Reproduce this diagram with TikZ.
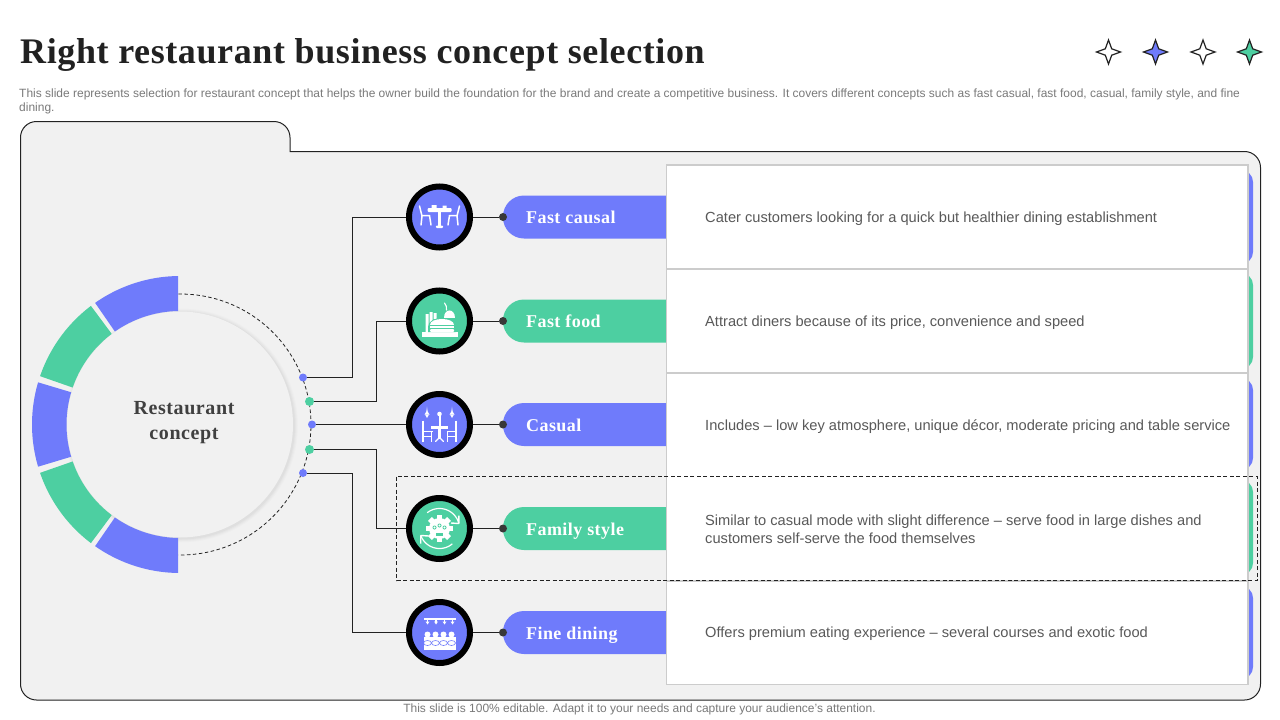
\documentclass[tikz,border=0pt]{standalone}
\usepackage{fontspec}
\setmainfont{Liberation Sans}
\newfontfamily\serifb[Scale=1]{Liberation Serif}
\definecolor{cblue}{HTML}{6F7BFB}
\definecolor{cgreen}{HTML}{4DCFA1}
\definecolor{cpanel}{HTML}{F1F1F1}
\definecolor{cline}{HTML}{222222}
\newcommand{\fs}[1]{\fontsize{#1}{#1}\selectfont}
\tikzset{
  x=1pt,y=-1pt,
  conn/.style={draw=cline,line width=0.9pt},
  pt/.style={circle,inner sep=0pt,minimum size=8pt},
  endpt/.style={circle,inner sep=0pt,minimum size=8pt,fill=cline!90!white},
  iconring/.style={circle,draw=black,line width=6pt,inner sep=0pt,minimum size=61pt},
  pilltext/.style={anchor=base west,inner sep=0pt,text=white,font=\serifb\bfseries\fs{18}\addfontfeature{LetterSpace=2.4}},
  desc/.style={anchor=base west,inner sep=0pt,text=black!65,font=\fs{14.65},align=left},
  star/.style={draw=cline,line width=1.2pt,line join=miter},
  ic/.style={draw=white,line width=1.5pt,line cap=round},
}
\newcommand{\pillrow}[4]{% y col striptop stripbot
  \fill[#2,rounded corners=12pt] (1225,#3-2) rectangle (1253,#4+2);
  \fill[#2,rounded corners=21pt] (503,#1-21.5) rectangle (700,#1+21.5);
}
\newcommand{\sparkle}[3]{% x y fill
  \path[star,fill=#3] (#1,#2-12) -- (#1+3.2,#2-3.2) -- (#1+12,#2) -- (#1+3.2,#2+3.2) -- (#1,#2+12)
    -- (#1-3.2,#2+3.2) -- (#1-12,#2) -- (#1-3.2,#2-3.2) -- cycle;
}
\newcommand{\iconTable}{%
  \fill[white,rounded corners=1pt] (-12,-9) rectangle (12,-5);
  \fill[white] (-8,-12) rectangle (-3,-9) (3,-11.5) rectangle (7,-9);
  \fill[white] (-1.7,-5) rectangle (1.7,10);
  \fill[white,rounded corners=1pt] (-3.7,8.5) rectangle (3.7,11);
  \draw[ic] (-20,-11) -- (-17.5,-1) -- (-18.5,8) (-17.5,-1.5) -- (-10,-1.5) -- (-8.5,8);
  \draw[ic] (20,-11) -- (17.5,-1) -- (18.5,8) (17.5,-1.5) -- (10,-1.5) -- (8.5,8);
}
\newcommand{\iconFood}{%
  \fill[white] (-18,11) rectangle (18,16);
  \fill[white] (-14,-7) rectangle (-11,11) (-10,-9) rectangle (-7,11) (-6,-8) rectangle (-3,-2);
  \fill[white] (4,-3) .. controls (4,-13) and (15,-13) .. (15,-3) -- cycle;
  \draw[ic,line width=1.1pt] (7,-11) .. controls (7,-14) and (7,-16) .. (5,-18);
  \fill[cgreen] (-11.5,6) .. controls (-11.5,-6) and (16,-6) .. (16,6) -- (16,11) -- (-11.5,11) -- cycle;
  \fill[white] (-9.5,3.5) .. controls (-9.5,-4) and (14.5,-4) .. (14.5,3.5) -- cycle;
  \fill[white] (-9.5,5) rectangle (14.5,7);
  \fill[white,rounded corners=1pt] (-9.5,8) rectangle (14.5,11);
}
\newcommand{\iconCasual}{%
  \fill[white] (-14.5,-10) -- (-10.5,-10) -- (-12.5,-6.5) -- cycle;
  \fill[white] (-15,-10) .. controls (-13,-11) and (-13,-14) .. (-12.5,-18) .. controls (-12,-14) and (-12,-11) .. (-10,-10) -- cycle;
  \fill[white] (14.5,-10) -- (10.5,-10) -- (12.5,-6.5) -- cycle;
  \fill[white] (15,-10) .. controls (13,-11) and (13,-14) .. (12.5,-18) .. controls (12,-14) and (12,-11) .. (10,-10) -- cycle;
  \fill[white] (0,-10.5) circle (2.3);
  \fill[white] (-1,-9) rectangle (1,1);
  \fill[white] (-8.5,1) rectangle (8.5,4);
  \fill[white] (-1.2,4) rectangle (1.2,14);
  \draw[ic,line width=1.2pt] (0,13) -- (-4,17) (0,13) -- (4,17);
  \draw[white,line width=1.9pt] (-16.5,-4) -- (-16.5,17) (-8,7) -- (-8,17) (-16.5,7) -- (-7,7) (-16.5,12) -- (-8,12)
     (16.5,-4) -- (16.5,17) (8,7) -- (8,17) (16.5,7) -- (7,7) (16.5,12) -- (8,12);
}
\newcommand{\iconFamily}{%
  \foreach \a in {0,45,...,315}{\fill[white,rotate=\a] (-2.7,-13.5) rectangle (2.7,-9);}
  \fill[white] (0,0) circle (10.5);
  \fill[cgreen] (-5,-1) circle (2) (5,-1) circle (2) (0,-3) circle (2);
  \fill[white] (-5,-1) circle (1.1) (5,-1) circle (1.1) (0,-3) circle (1.1);
  \fill[cgreen] (-3.5,4) rectangle (3.5,7);
  \draw[white,line width=1.2pt] plot[domain=128:15,samples=30] ({20*cos(\x)},{-20*sin(\x)});
  \draw[white,line width=1.2pt] plot[domain=200:310,samples=30] ({20*cos(\x)},{-20*sin(\x)});
  \draw[white,line width=1.4pt] (19.3,-5) -- (19.3,-13) (19.3,-5) -- (11.5,-5.5);
  \draw[white,line width=1.4pt] (-18.8,7) -- (-18.8,15) (-18.8,7) -- (-11,7.5);
}
\newcommand{\iconFine}{%
  \fill[white] (-16,-15) rectangle (16,-13);
  \foreach \u in {-12,-3.5,5,13}{%
    \fill[white] (\u-.6,-14) rectangle (\u+.6,-11);
    \fill[white] (\u-2,-11) -- (\u+2,-11) -- (\u,-8) -- cycle;}
  \fill[white] (-16,4) rectangle (16,17);
  \foreach \u in {-12,-4,4,12}{%
    \fill[white] (\u,2) circle (3);}
  \foreach \u in {-12,-4,4,12}{%
    \draw[cblue,line width=.6pt] (\u,10.5) ellipse [x radius=4,y radius=2.5];}
}
\begin{document}
\begin{tikzpicture}
\useasboundingbox (0,0) rectangle (1280,720);
\fill[white] (0,0) rectangle (1280,720);

% title block
\node[anchor=base west,inner sep=0pt,text=black!87,font=\serifb\bfseries\fs{36}\addfontfeature{LetterSpace=1.7}] (title) at (20,63.2) {Right restaurant business concept selection};
\node[anchor=base west,inner sep=0pt,text=black!52,font=\fs{11.98}] (sub1) at (19,97) {This slide represents selection for restaurant concept that helps the owner build the foundation for the brand and create a competitive business. It covers different concepts such as fast casual, fast food, casual, family style, and fine};
\node[anchor=base west,inner sep=0pt,text=black!52,font=\fs{11.98}] (sub2) at (19,111) {dining.};
\sparkle{1108.5}{52}{white}
\sparkle{1155.5}{52}{cblue}
\sparkle{1203}{52}{white}
\sparkle{1249.5}{52}{cgreen}

% background panel
\draw[fill=cpanel,draw=cline,line width=1pt] (20.5,300) [rounded corners=16pt] -- (20.5,121.5) -- (290,121.5) [sharp corners] -- (290,151.5) [rounded corners=16pt] -- (1260.5,151.5) -- (1260.5,700) -- (20.5,700) -- cycle;

% pills and hidden right ends
\pillrow{217}{cblue}{172}{262}
\pillrow{321}{cgreen}{275}{367}
\pillrow{424.5}{cblue}{380}{468}
\pillrow{528.5}{cgreen}{482}{573}
\pillrow{632.5}{cblue}{588}{677}

% white table
\fill[white] (666.5,165) rectangle (1248,684.5);
\draw[draw=black!20,line width=1.2pt] (666.5,165) rectangle (1248,684.5);
\foreach \yy in {269,373,581}{\draw[draw=black!20,line width=1.2pt] (666.5,\yy) -- (1248,\yy);}

% central circle with soft shadow
\foreach \rr/\op in {117/.01,116/.015,115/.02,114/.025}{\fill[black,opacity=\op] (181,425.5) circle (\rr);}
\fill[cpanel] (180,424.5) circle (113);
\draw[cline,line width=.8pt,dash pattern=on 3.5pt off 2.5pt] plot[domain=90.9:-90.9,samples=90] ({180.5+130.5*cos(\x)},{424.5-130.5*sin(\x)});
\begin{scope}
\clip (0,200) rectangle (178,620);
\foreach \aa/\bb/\cc in {86/125/cblue,127/161/cgreen,163.5/196.5/cblue,199/233/cgreen,235/274/cblue}{
  \fill[\cc] plot[domain=\aa:\bb,samples=30] ({180+148*cos(\x)},{424.5-148.5*sin(\x)}) -- plot[domain=\bb:\aa,samples=30] ({180+113.5*cos(\x)},{424.5-113.5*sin(\x)}) -- cycle;
}
\end{scope}
\node[align=center,inner sep=0pt,text=black!75,font=\serifb\bfseries\fs{20}\addfontfeature{LetterSpace=3}] (centre) at (184,422.5) {Restaurant\\[5pt]concept};

% dots on the arc
\node[pt,fill=cblue] (d1) at (303,377.5) {};
\node[pt,fill=cgreen,minimum size=9pt] (d2) at (309.5,401.5) {};
\node[pt,fill=cblue] (d3) at (312,424.5) {};
\node[pt,fill=cgreen,minimum size=9pt] (d4) at (309.5,449.5) {};
\node[pt,fill=cblue] (d5) at (303,473) {};

% icons
\node[iconring,fill=cblue] (i1) at (439.5,217) {};
\node[iconring,fill=cgreen] (i2) at (439.5,321) {};
\node[iconring,fill=cblue] (i3) at (439.5,424.5) {};
\node[iconring,fill=cgreen] (i4) at (439.5,528.5) {};
\node[iconring,fill=cblue] (i5) at (439.5,632.5) {};
\begin{scope}[shift={(439.5,217)}]\iconTable\end{scope}
\begin{scope}[shift={(439.5,321)}]\iconFood\end{scope}
\begin{scope}[shift={(439.5,424.5)}]\iconCasual\end{scope}
\begin{scope}[shift={(439.5,528.5)}]\iconFamily\end{scope}
\begin{scope}[shift={(439.5,632.5)}]\iconFine\end{scope}

% end points
\node[endpt] (e1) at (503,217) {};
\node[endpt] (e2) at (503,321) {};
\node[endpt] (e3) at (503,424.5) {};
\node[endpt] (e4) at (503,528.5) {};
\node[endpt] (e5) at (503,632.5) {};
\coordinate (va) at (352.7,300);
\coordinate (vb) at (376.7,300);

% connectors
\draw[conn] (d1) -- (d1 -| va) |- (i1);
\draw[conn] (d2) -- (d2 -| vb) |- (i2);
\draw[conn] (d3) -- (i3);
\draw[conn] (d4) -- (d4 -| vb) |- (i4);
\draw[conn] (d5) -- (d5 -| va) |- (i5);
\foreach \k in {1,...,5}{\draw[conn] (i\k) -- (e\k);}

% pill labels
\node[pilltext] (l1) at (526,223.5) {Fast causal};
\node[pilltext] (l2) at (526,327) {Fast food};
\node[pilltext] (l3) at (526,431) {Casual};
\node[pilltext] (l4) at (526,535) {Family style};
\node[pilltext] (l5) at (526,639) {Fine dining};

% descriptions
\node[desc] (t1) at (705,222) {Cater customers looking for a quick but healthier dining establishment};
\node[desc] (t2) at (705,326) {Attract diners because of its price, convenience and speed};
\node[desc] (t3) at (705,430) {Includes – low key atmosphere, unique décor, moderate pricing and table service};
\node[desc] (t4a) at (705,525) {Similar to casual mode with slight difference – serve food in large dishes and};
\node[desc] (t4b) at (705,543) {customers self-serve the food themselves};
\node[desc] (t5) at (705,637) {Offers premium eating experience – several courses and exotic food};

% highlight
\draw[cline,line width=.9pt,dash pattern=on 4pt off 2.5pt] (396.5,476.5) rectangle (1257,580.5);

\node[anchor=base,inner sep=0pt,text=black!52,font=\fs{11.98}] (foot) at (639.5,712.5) {This slide is 100\% editable. Adapt it to your needs and capture your audience's attention.};
\end{tikzpicture}
\end{document}
